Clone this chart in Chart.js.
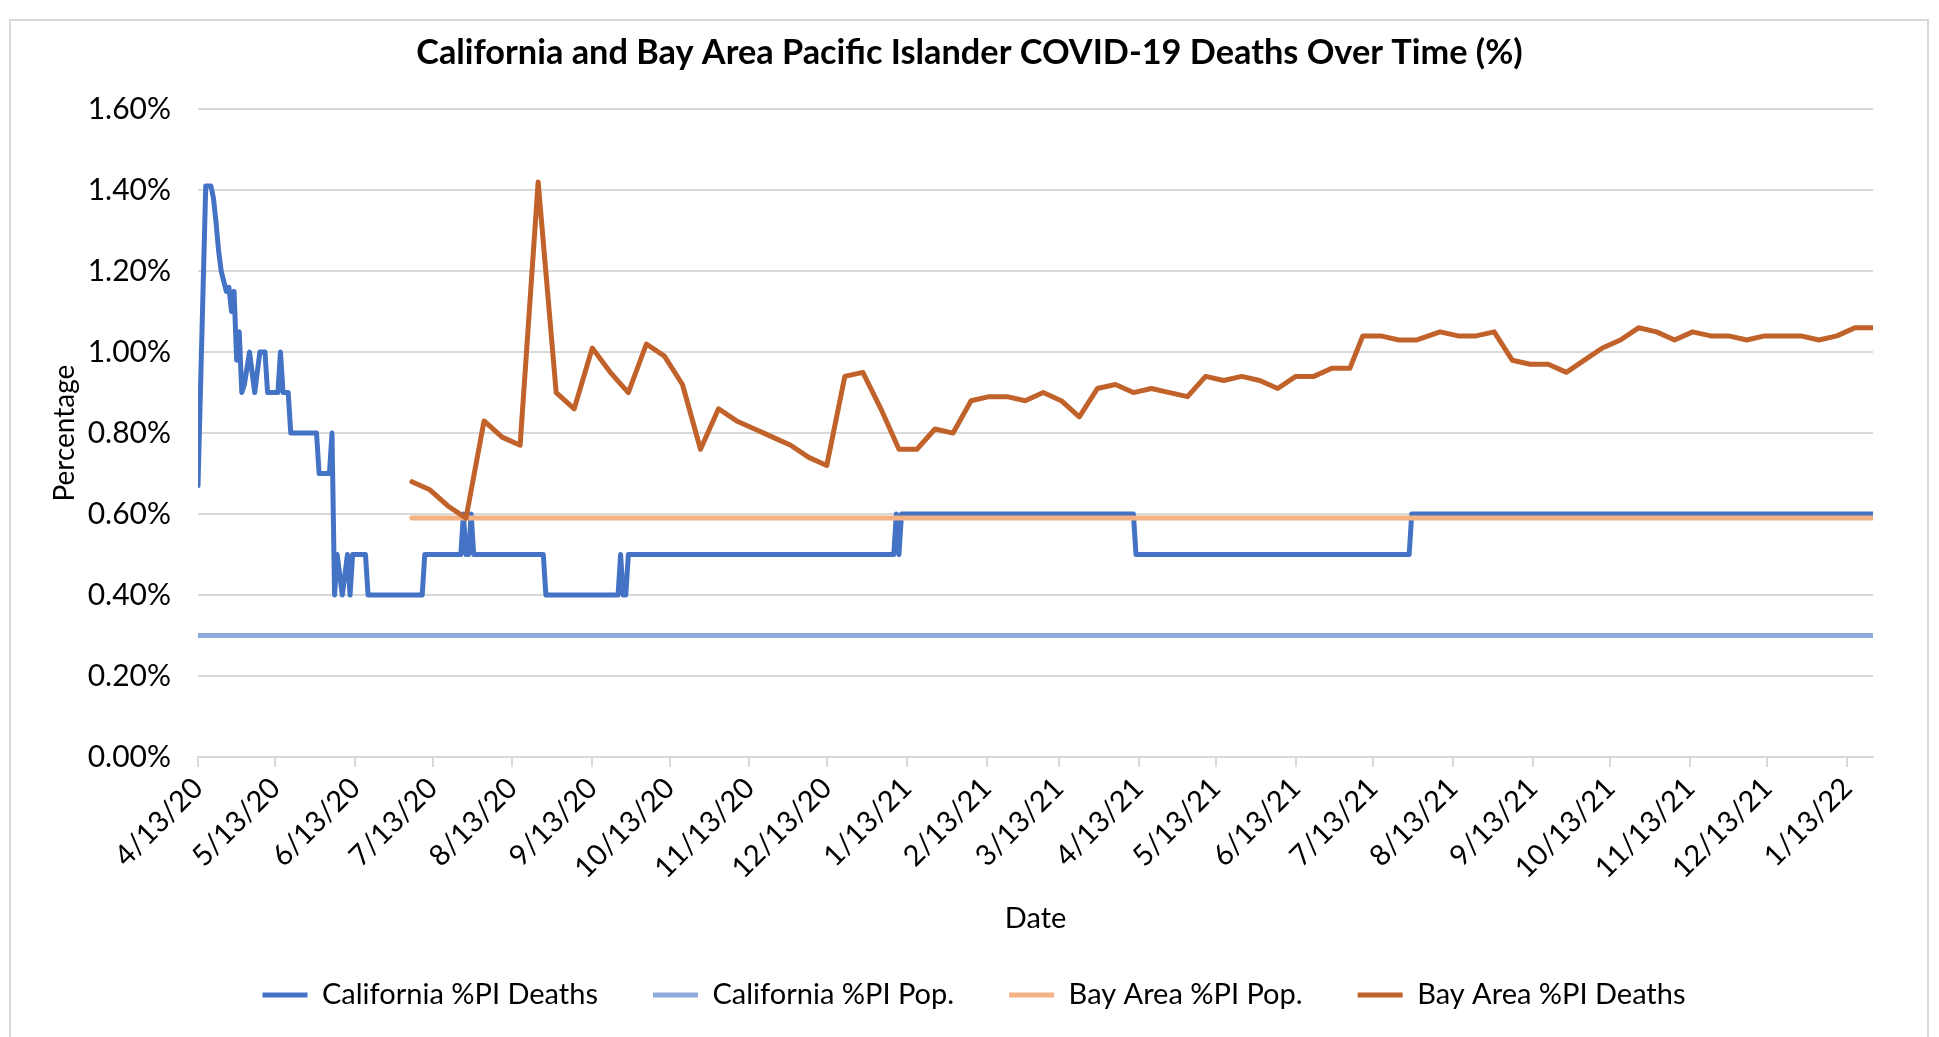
<!DOCTYPE html>
<html>
<head>
<meta charset="utf-8">
<title>California and Bay Area Pacific Islander COVID-19 Deaths Over Time (%)</title>
<script src="https://cdn.jsdelivr.net/npm/chart.js@4.4.1/dist/chart.umd.min.js"></script>
<style>
  html, body { margin: 0; padding: 0; background: #fff; }
  #wrap { position: relative; width: 1939px; height: 1037px; overflow: hidden; }
  #frame { position: absolute; left: 9px; top: 19px; width: 1920px; height: 1040px; border: 2px solid #d9d9d9; box-sizing: border-box; }
  #chart { position: absolute; left: 0; top: 0; }
</style>
</head>
<body>
<div id="wrap">
  <div id="frame"></div>
  <canvas id="chart" width="1939" height="1037"></canvas>
</div>
<script>
//Dates on the x axis (monthly labels)
const tickLabels = [
  "4/13/20", "5/13/20", "6/13/20", "7/13/20", "8/13/20", "9/13/20", "10/13/20",
  "11/13/20", "12/13/20", "1/13/21", "2/13/21", "3/13/21", "4/13/21", "5/13/21",
  "6/13/21", "7/13/21", "8/13/21", "9/13/21", "10/13/21", "11/13/21", "12/13/21", "1/13/22",
];
const lastDate = "1/23/22";

//California %PI Deaths - dates where the value changes
const caDeathDates = [
  "4/13/20", "4/16/20", "4/18/20", "4/19/20", "4/20/20", "4/21/20", "4/22/20", "4/24/20",
  "4/25/20", "4/26/20", "4/27/20", "4/28/20", "4/29/20", "4/30/20", "5/1/20", "5/3/20",
  "5/5/20", "5/7/20", "5/9/20", "5/10/20", "5/14/20", "5/15/20", "5/16/20", "5/18/20",
  "5/19/20", "5/29/20", "5/30/20", "6/3/20", "6/4/20", "6/5/20", "6/6/20", "6/8/20",
  "6/10/20", "6/11/20", "6/12/20", "6/17/20", "6/18/20", "7/9/20", "7/10/20", "7/24/20",
  "7/25/20", "7/26/20", "7/27/20", "7/28/20", "7/29/20", "8/25/20", "8/26/20", "9/23/20",
  "9/24/20", "9/25/20", "9/26/20", "9/27/20", "1/8/21", "1/9/21", "1/10/21", "1/11/21",
  "4/11/21", "4/12/21", "7/27/21", "7/28/21", "1/23/22",
];
const caDeathValues = [
  0.67, 1.41, 1.41, 1.38, 1.32, 1.25, 1.20, 1.15,
  1.16, 1.10, 1.15, 0.98, 1.05, 0.90, 0.92, 1.00,
  0.90, 1.00, 1.00, 0.90, 0.90, 1.00, 0.90, 0.90,
  0.80, 0.80, 0.70, 0.70, 0.80, 0.40, 0.50, 0.40,
  0.50, 0.40, 0.50, 0.50, 0.40, 0.40, 0.50, 0.50,
  0.60, 0.50, 0.50, 0.60, 0.50, 0.50, 0.40, 0.40,
  0.50, 0.40, 0.40, 0.50, 0.50, 0.60, 0.50, 0.60,
  0.60, 0.50, 0.50, 0.60, 0.60,
];

//California %PI Pop.
const caPopDates = ["4/13/20", "1/23/22"];
const caPopValues = [0.30, 0.30];

//Bay Area %PI Pop.
const bayPopDates = ["7/5/20", "1/23/22"];
const bayPopValues = [0.59, 0.59];

//Bay Area %PI Deaths (weekly)
const bayDeathDates = [
  "7/5/20", "7/12/20", "7/19/20", "7/26/20", "8/2/20", "8/9/20", "8/16/20", "8/23/20",
  "8/30/20", "9/6/20", "9/13/20", "9/20/20", "9/27/20", "10/4/20", "10/11/20", "10/18/20",
  "10/25/20", "11/1/20", "11/8/20", "11/15/20", "11/22/20", "11/29/20", "12/6/20", "12/13/20",
  "12/20/20", "12/27/20", "1/3/21", "1/10/21", "1/17/21", "1/24/21", "1/31/21", "2/7/21",
  "2/14/21", "2/21/21", "2/28/21", "3/7/21", "3/14/21", "3/21/21", "3/28/21", "4/4/21",
  "4/11/21", "4/18/21", "4/25/21", "5/2/21", "5/9/21", "5/16/21", "5/23/21", "5/30/21",
  "6/6/21", "6/13/21", "6/20/21", "6/27/21", "7/4/21", "7/9/21", "7/16/21", "7/23/21",
  "7/30/21", "8/8/21", "8/15/21", "8/22/21", "8/29/21", "9/5/21", "9/12/21", "9/19/21",
  "9/26/21", "10/3/21", "10/10/21", "10/17/21", "10/24/21", "10/31/21", "11/7/21", "11/14/21",
  "11/21/21", "11/28/21", "12/5/21", "12/12/21", "12/19/21", "12/26/21", "1/2/22", "1/9/22",
  "1/16/22", "1/23/22",
];
const bayDeathValues = [
  0.68, 0.66, 0.62, 0.59, 0.83, 0.79, 0.77, 1.42,
  0.90, 0.86, 1.01, 0.95, 0.90, 1.02, 0.99, 0.92,
  0.76, 0.86, 0.83, 0.81, 0.79, 0.77, 0.74, 0.72,
  0.94, 0.95, 0.86, 0.76, 0.76, 0.81, 0.80, 0.88,
  0.89, 0.89, 0.88, 0.90, 0.88, 0.84, 0.91, 0.92,
  0.90, 0.91, 0.90, 0.89, 0.94, 0.93, 0.94, 0.93,
  0.91, 0.94, 0.94, 0.96, 0.96, 1.04, 1.04, 1.03,
  1.03, 1.05, 1.04, 1.04, 1.05, 0.98, 0.97, 0.97,
  0.95, 0.98, 1.01, 1.03, 1.06, 1.05, 1.03, 1.05,
  1.04, 1.04, 1.03, 1.04, 1.04, 1.04, 1.03, 1.04,
  1.06, 1.06,
];

//days since the first date, so a linear axis keeps the real spacing
const START = Date.UTC(2020, 3, 13);
const dayOf = (s) => {
  const [m, d, y] = s.split("/").map(Number);
  return (Date.UTC(2000 + y, m - 1, d) - START) / 864e5;
};
const toPoints = (dates, values) => dates.map((d, i) => ({ x: dayOf(d), y: values[i] }));
const tickDays = tickLabels.map(dayOf);

const FONT = "Lato, 'Open Sans', sans-serif";
const LEGEND_PAD = 55;

//title and legend are centred on the whole canvas, not on the padded area;
//the legend is also moved up a bit (its big item padding only widens the gaps)
const centerBoxes = {
  id: "centerBoxes",
  afterLayout(chart) {
    const t = chart.titleBlock;
    t.left = 0;
    t.right = chart.width;
    const l = chart.legend;
    l.left = 9;
    l.right = chart.width;
    l.top = 995 - LEGEND_PAD - 14.5;
    l.bottom = chart.height;
  },
};

new Chart(document.getElementById("chart"), {
  type: "line",
  plugins: [centerBoxes],
  data: {
    datasets: [
      {
        label: "California %PI Deaths",
        data: toPoints(caDeathDates, caDeathValues),
        borderColor: "#4472C4",
        order: 4,
      },
      {
        label: "California %PI Pop.",
        data: toPoints(caPopDates, caPopValues),
        borderColor: "#8FAADC",
        order: 3,
      },
      {
        label: "Bay Area %PI Pop.",
        data: toPoints(bayPopDates, bayPopValues),
        borderColor: "#F4B183",
        order: 2,
      },
      {
        label: "Bay Area %PI Deaths",
        data: toPoints(bayDeathDates, bayDeathValues),
        borderColor: "#C0622A",
        order: 1,
      },
    ],
  },
  options: {
    responsive: false,
    animation: false,
    datasets: {
      line: {
        borderWidth: 5,
        pointRadius: 0,
        tension: 0,
        fill: false,
        borderJoinStyle: "round",
        borderCapStyle: "round",
      },
    },
    layout: { padding: { left: 10, right: 66, top: 20, bottom: 0 } },
    plugins: {
      tooltip: { enabled: false },
      title: {
        display: true,
        text: "California and Bay Area Pacific Islander COVID-19 Deaths Over Time (%)",
        color: "#000",
        font: { family: FONT, size: 34.3, weight: "bold" },
        padding: { top: 12, bottom: 36 },
      },
      legend: {
        position: "bottom",
        labels: {
          color: "#000",
          font: { family: FONT, size: 29 },
          usePointStyle: true,
          pointStyle: "line",
          pointStyleWidth: 45,
          boxWidth: 45,
          padding: LEGEND_PAD,
          sort: (a, b) => a.datasetIndex - b.datasetIndex,
        },
      },
    },
    scales: {
      x: {
        type: "linear",
        min: 0,
        max: dayOf(lastDate),
        afterBuildTicks: (scale) => {
          scale.ticks = tickDays.map((v) => ({ value: v }));
        },
        afterFit: (scale) => {
          scale.height = 186;
        },
        ticks: {
          autoSkip: false,
          maxRotation: 45,
          minRotation: 45,
          padding: 4,
          color: "#000",
          font: { family: FONT, size: 29 },
          callback: (v) => tickLabels[tickDays.indexOf(v)],
        },
        grid: {
          drawOnChartArea: false,
          drawTicks: true,
          tickLength: 10,
          color: "#d9d9d9",
          lineWidth: 2,
        },
        border: { color: "#d9d9d9", width: 2 },
        title: {
          display: true,
          text: "Date",
          color: "#000",
          font: { family: FONT, size: 29 },
          padding: { top: 0, bottom: 7 },
        },
      },
      y: {
        min: 0,
        max: 1.6,
        afterFit: (scale) => {
          scale.width = 188;
        },
        ticks: {
          stepSize: 0.2,
          padding: 27,
          color: "#000",
          font: { family: FONT, size: 30 },
          callback: (v) => v.toFixed(2) + "%",
        },
        grid: { color: "#d9d9d9", lineWidth: 2, drawTicks: false },
        border: { display: false },
        title: {
          display: true,
          text: "Percentage",
          color: "#000",
          font: { family: FONT, size: 28 },
          padding: { top: 38, bottom: 0 },
        },
      },
    },
  },
});
</script>
</body>
</html>
